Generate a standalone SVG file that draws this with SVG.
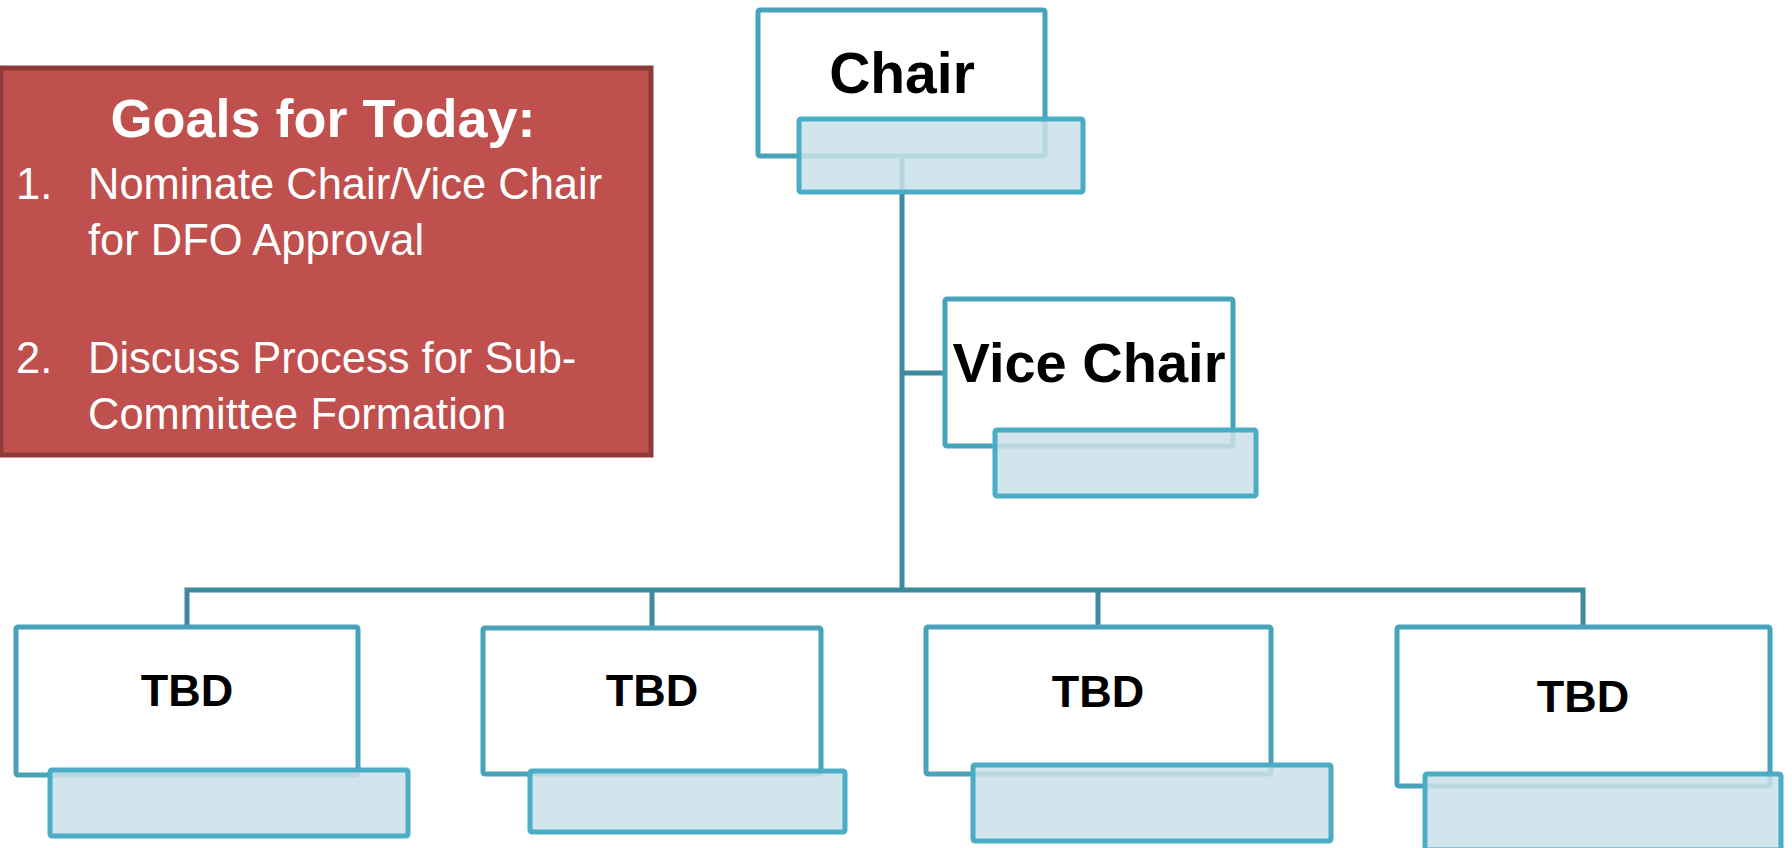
<svg xmlns="http://www.w3.org/2000/svg" width="1792" height="848" viewBox="0 0 1792 848">
<style>
.main{fill:#ffffff;stroke:#48a2b9;stroke-width:5}
.sub{fill:#cbe1e9;fill-opacity:0.86;stroke:#4badc5;stroke-width:5}
.conn{fill:none;stroke:#3d8a9d;stroke-width:5}
.lbl{font-family:"Liberation Sans",Arial,sans-serif;font-weight:bold;fill:#000000;text-anchor:middle}
.goal{font-family:"Liberation Sans",Arial,sans-serif;fill:#ffffff;font-size:43.5px}
</style>
<rect width="1792" height="848" fill="#ffffff"/>
<g id="goals">
<rect x="1" y="68" width="650" height="387" fill="#c0504d" stroke="#8e3a38" stroke-width="5"/>
<text x="323" y="137" font-family="&quot;Liberation Sans&quot;, Arial, sans-serif" font-weight="bold" font-size="54" fill="#ffffff" text-anchor="middle">Goals for Today:</text>
<text class="goal" x="16" y="199">1.</text>
<text class="goal" x="88" y="199">Nominate Chair/Vice Chair</text>
<text class="goal" x="88" y="255">for DFO Approval</text>
<text class="goal" x="16" y="373">2.</text>
<text class="goal" x="88" y="373">Discuss Process for Sub-</text>
<text class="goal" x="88" y="429">Committee Formation</text>
</g>
<g id="connectors">
<path class="conn" d="M902 158 V590"/>
<path class="conn" d="M902 373 H945"/>
<path class="conn" d="M187 627 V590 H1583 V627"/>
<path class="conn" d="M652 590 V627"/>
<path class="conn" d="M1098 590 V627"/>
</g>
<g id="chair">
<rect class="main" x="758" y="10" width="287" height="146" rx="2"/>
<text class="lbl" x="902" y="93" font-size="57">Chair</text>
<rect class="sub" x="799" y="119" width="284" height="73" rx="2"/>
</g>
<g id="vicechair">
<rect class="main" x="945" y="299" width="288" height="147" rx="2"/>
<text class="lbl" x="1089" y="382" font-size="56">Vice Chair</text>
<rect class="sub" x="995" y="430" width="261" height="66" rx="2"/>
</g>
<g id="tbd1">
<rect class="main" x="16" y="627" width="342" height="148" rx="2"/>
<text class="lbl" x="187" y="706" font-size="45">TBD</text>
<rect class="sub" x="50" y="770" width="358" height="66" rx="2"/>
</g>
<g id="tbd2">
<rect class="main" x="483" y="628" width="338" height="146" rx="2"/>
<text class="lbl" x="652" y="706" font-size="45">TBD</text>
<rect class="sub" x="530" y="771" width="315" height="61" rx="2"/>
</g>
<g id="tbd3">
<rect class="main" x="926" y="627" width="345" height="147" rx="2"/>
<text class="lbl" x="1098" y="707" font-size="45">TBD</text>
<rect class="sub" x="973" y="765" width="358" height="76" rx="2"/>
</g>
<g id="tbd4">
<rect class="main" x="1397" y="627" width="373" height="159" rx="2"/>
<text class="lbl" x="1583" y="712" font-size="45">TBD</text>
<rect class="sub" x="1425" y="774" width="356" height="76" rx="2"/>
</g>
</svg>
